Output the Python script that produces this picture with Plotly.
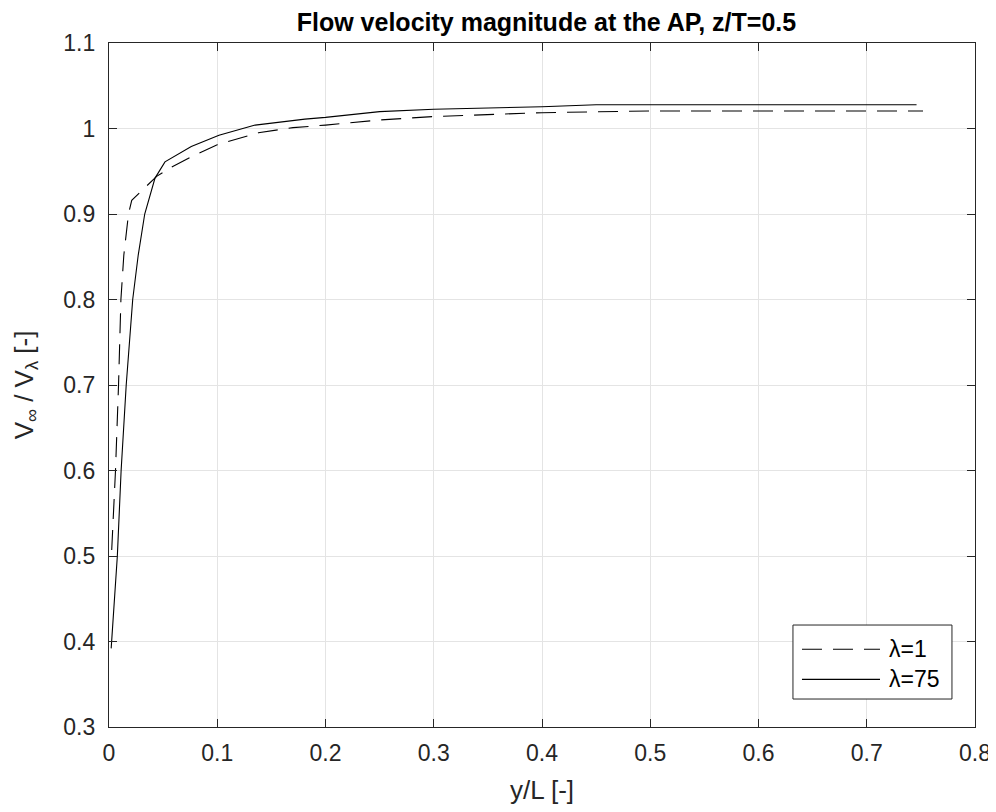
import plotly.graph_objects as go

# lambda = 1 (dashed)
x_l1 = [0.0025, 0.006, 0.0088, 0.011, 0.0137, 0.018, 0.021, 0.044, 0.058, 0.076,
        0.10, 0.138, 0.17, 0.2, 0.25, 0.3, 0.4, 0.5, 0.752]
y_l1 = [0.507, 0.6, 0.7, 0.8, 0.852, 0.9, 0.916, 0.944, 0.955, 0.967,
        0.981, 0.995, 1.001, 1.004, 1.010, 1.014, 1.0185, 1.0205, 1.0205]

# lambda = 75 (solid)
x_l75 = [0.002, 0.0077, 0.0112, 0.0159, 0.0219, 0.027, 0.033, 0.0425, 0.0517, 0.076,
         0.1016, 0.135, 0.181, 0.2, 0.25, 0.3, 0.4, 0.45, 0.746]
y_l75 = [0.392, 0.5, 0.6, 0.7, 0.8, 0.852, 0.9, 0.942, 0.961, 0.979,
         0.992, 1.004, 1.011, 1.013, 1.0197, 1.0225, 1.0255, 1.0278, 1.0278]

series_names = ["λ=1", "λ=75"]
x_ticks = [0, 0.1, 0.2, 0.3, 0.4, 0.5, 0.6, 0.7, 0.8]
y_ticks = [0.3, 0.4, 0.5, 0.6, 0.7, 0.8, 0.9, 1.0, 1.1]
x_ticklabels = ["0", "0.1", "0.2", "0.3", "0.4", "0.5", "0.6", "0.7", "0.8"]
y_ticklabels = ["0.3", "0.4", "0.5", "0.6", "0.7", "0.8", "0.9", "1", "1.1"]

FONT = "Liberation Sans, Arial, Helvetica"
DASH = "20px,11px"
styles = [dict(color="black", width=1.1, dash=DASH), dict(color="black", width=1.1)]

fig = go.Figure()
fig.add_trace(go.Scatter(x=x_l1, y=y_l1, mode="lines", name=series_names[0],
                         line=styles[0], showlegend=False))
fig.add_trace(go.Scatter(x=x_l75, y=y_l75, mode="lines", name=series_names[1],
                         line=styles[1], showlegend=False))

axis_common = dict(
    showline=True, linecolor="#262626", linewidth=1.3, mirror="ticks",
    ticks="inside", ticklen=8, tickcolor="#262626", tickwidth=1.3,
    showgrid=True, gridcolor="#e4e4e4", gridwidth=1, zeroline=False,
    automargin=False,
    tickfont=dict(family=FONT, size=23, color="#262626"),
)

fig.update_xaxes(range=[0, 0.8], tickvals=x_ticks, ticktext=x_ticklabels,
                 ticklabelstandoff=5,
                 title=dict(text="y/L [-]", font=dict(family=FONT, size=26, color="#262626"),
                            standoff=16),
                 **axis_common)
fig.update_yaxes(range=[0.3, 1.1], tickvals=y_ticks, ticktext=y_ticklabels,
                 ticklabelstandoff=8,
                 title=dict(text="V<sub>∞</sub> / V<sub>λ</sub> [-]",
                            font=dict(family=FONT, size=26, color="#262626"),
                            standoff=22),
                 **axis_common)

# legend box drawn in paper coordinates (MATLAB-style)
leg_x0, leg_x1, leg_y0, leg_y1 = 0.7898, 0.9734, 0.0409, 0.1491
line_x0, line_x1, text_x = 0.8002, 0.8903, 0.8984
row_y = [0.1136, 0.0697]
fig.add_shape(type="rect", xref="paper", yref="paper", x0=leg_x0, x1=leg_x1, y0=leg_y0, y1=leg_y1,
              line=dict(color="#262626", width=1), fillcolor="white", layer="above")
for name, st, ry in zip(series_names, styles, row_y):
    fig.add_shape(type="line", xref="paper", yref="paper", x0=line_x0, x1=line_x1, y0=ry, y1=ry,
                  line=st, layer="above")
    fig.add_annotation(xref="paper", yref="paper", x=text_x, y=ry, text=name, showarrow=False,
                       xanchor="left", yanchor="middle",
                       font=dict(family=FONT, size=23, color="black"))

fig.update_layout(
    width=988, height=804,
    margin=dict(l=101, r=21, t=35, b=85),
    paper_bgcolor="white", plot_bgcolor="white",
    title=dict(text="<b>Flow velocity magnitude at the AP, z/T=0.5</b>",
               font=dict(family=FONT, size=25, color="black"),
               x=0.545, xanchor="center", y=0.9822, yanchor="middle"),
    showlegend=False,
)

fig.write_html("out.html")
